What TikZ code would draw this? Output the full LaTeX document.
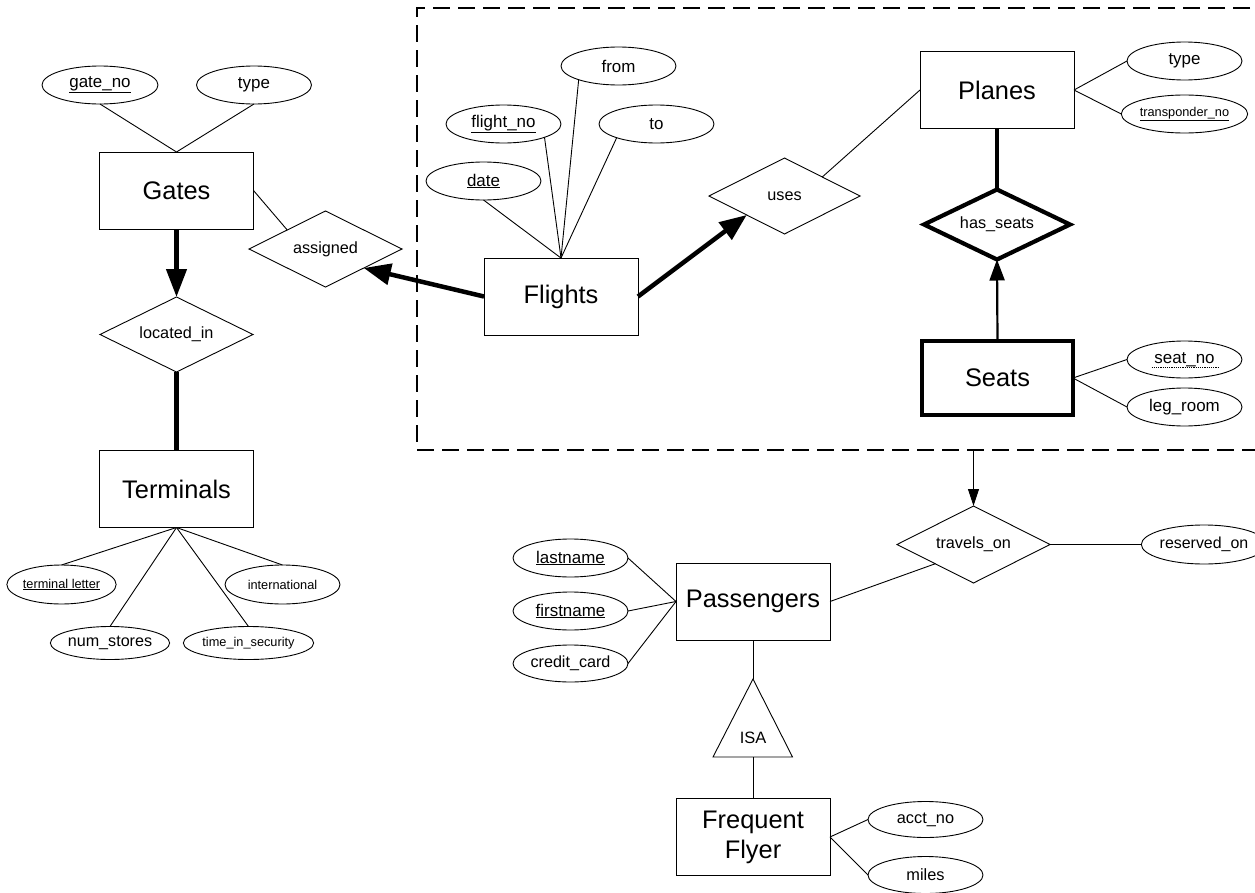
\documentclass[tikz,border=0pt]{standalone}
\usepackage{fontspec}
\setmainfont{Liberation Sans}
\usetikzlibrary{shapes.geometric,arrows.meta}
\begin{document}
\begin{tikzpicture}[x=1bp,y=-1bp,
  every node/.style={inner sep=0pt, outer sep=0pt},
  ent/.style={draw, line width=0.9bp, rectangle, minimum width=154bp, minimum height=77bp, font=\fontsize{25.5}{30}\selectfont},
  rel/.style={draw, line width=0.9bp, diamond, aspect=2, minimum width=153bp, minimum height=76bp, font=\fontsize{16.3}{19}\selectfont},
  attr/.style={draw, line width=0.9bp, ellipse, minimum width=115bp, minimum height=38bp, font=\fontsize{17}{20}\selectfont},
  sattr/.style={attr, font=\fontsize{12.8}{15}\selectfont},
  conn/.style={line width=0.9bp},
  heavy/.style={line width=4.5bp},
  bigtip/.style={-{Triangle[length=28bp,width=20bp]}},
  midtip/.style={-{Triangle[length=27bp,width=21bp]}},
]
\useasboundingbox (0,0) rectangle (1255,893);

% dashed aggregation box
\draw[line width=1.4bp, dash pattern=on 17bp off 8bp] (1275,8) -- (417,8) -- (417,450) -- (1275,450);
\coordinate (boxdrop) at (973.5,450);

% entities
\node[ent] (gates) at (176.5,190.5) {Gates};
\node[ent] (terminals) at (176.5,489) {Terminals};
\node[ent] (flights) at (561,296.5) {Flights};
\node[ent] (planes) at (997,90) {Planes};
\node[ent, line width=4.8bp, minimum width=151bp, minimum height=74bp] (seats) at (997.5,378) {Seats};
\node[ent] (passengers) at (753,601.5) {Passengers};
\node[ent, align=center] (ff) at (753,837) {Frequent\\Flyer};

% relationships
\node[rel] (assigned) at (325.5,249) {assigned};
\node[rel, minimum height=75bp] (locin) at (176.5,334.5) {located\_in};
\node[rel, minimum width=151bp] (uses) at (784.5,196) {uses};
\node[rel, line width=4.2bp, minimum width=146bp, minimum height=70bp] (hasseats) at (997,224.5) {has\_seats};
\node[rel, minimum height=77bp] (travels) at (973.5,544.5) {travels\_on};

% ISA triangle
\coordinate (isatop) at (753,679);
\coordinate (isabase) at (753,757);
\draw[conn, line join=miter] (isatop) -- (792.5,757) -- (713,757) -- cycle;
\node[font=\fontsize{16.5}{19}\selectfont] (isa) at (753,737.5) {ISA};

% attributes
\node[attr, minimum width=116bp] (gateno) at (100,85) {\underline{gate\_no}};
\node[attr] (gtype) at (254,85) {type};
\node[attr] (date) at (483.5,181) {\underline{date}};
\node[attr] (flightno) at (503.5,124) {\underline{flight\_no}};
\node[attr] (from) at (618.5,66) {from};
\node[attr] (to) at (656.5,124) {to};
\node[attr] (ptype) at (1184.5,61) {type};
\node[sattr] (transp) at (1184.5,114) {\underline{transponder\_no}};
\node[attr, minimum height=37bp] (seatno) at (1184.5,359.5) {seat\_no};
\draw[line width=0.7bp, dash pattern=on 1.2bp off 1bp] ([xshift=-33bp,yshift=-8bp]seatno.center) -- ([xshift=34bp,yshift=-8bp]seatno.center);
\node[attr] (legroom) at (1184.5,407) {leg\_room};
\node[sattr, minimum width=107bp, minimum height=39bp] (termletter) at (61.5,584.5) {\underline{terminal letter}};
\node[sattr, minimum height=39bp] (intl) at (282.5,584.5) {international};
\node[attr, minimum width=114bp, minimum height=33bp, font=\fontsize{16.2}{19}\selectfont] (numstores) at (110,643) {num\_stores};
\node[sattr, minimum width=117bp, minimum height=33bp] (timesec) at (248.5,643) {time\_in\_security};
\node[attr] (lastname) at (570.5,558) {\underline{lastname}};
\node[attr] (firstname) at (570.5,611) {\underline{firstname}};
\node[attr, minimum height=37bp, font=\fontsize{16.2}{19}\selectfont] (credit) at (570.5,663.5) {credit\_card};
\node[attr, minimum height=36bp, font=\fontsize{16.4}{19}\selectfont] (acctno) at (925.5,819.5) {acct\_no};
\node[attr, minimum height=37bp, font=\fontsize{16.4}{19}\selectfont] (miles) at (925.5,875) {miles};
\node[attr, minimum height=39bp, font=\fontsize{16}{19}\selectfont] (reserved) at (1204,544.5) {reserved\_on};

% connectors: gates / terminals
\draw[conn] (gateno.south) -- (gates.north);
\draw[conn] (gtype.south) -- (gates.north);
\draw[conn] (gates.east) -- (assigned.north west);
\draw[heavy, bigtip] (gates.south) -- (locin.north);
\draw[heavy] (locin.south) -- (terminals.north);
\draw[conn] (terminals.south) -- (termletter.north);
\draw[conn] (terminals.south) -- (numstores.north);
\draw[conn] (terminals.south) -- (timesec.north);
\draw[conn] (terminals.south) -- (intl.north);

% flights
\draw[conn] (date.south) -- (flights.north);
\draw[conn] (flightno.-18) -- (flights.north);
\draw[conn] (from.199) -- (flights.north);
\draw[conn] (to.199) -- (flights.north);
\draw[heavy, midtip] (flights.west) -- (assigned.south east);
\draw[heavy, midtip] (flights.east) -- (uses.south west);
\draw[conn] (uses.north east) -- (planes.west);

% planes / seats
\draw[conn] (planes.east) -- (ptype.west);
\draw[conn] (planes.east) -- (transp.west);
\draw[heavy] (planes.south) -- (hasseats.north);
\draw[line width=2.2bp, -{Triangle[length=21bp,width=15bp]}] (seats.north) -- (hasseats.south);
\draw[conn] (seats.east) -- (seatno.west);
\draw[conn] (seats.east) -- (legroom.west);

% passengers
\draw[conn, -{Triangle[length=17bp,width=11bp]}] (boxdrop) -- (travels.north);
\draw[conn] (travels.east) -- (reserved.west);
\draw[conn] (passengers.east) -- (travels.south west);
\draw[conn] (passengers.west) -- (lastname.east);
\draw[conn] (passengers.west) -- (firstname.east);
\draw[conn] (passengers.west) -- (credit.east);
\draw[conn] (passengers.south) -- (isatop);
\draw[conn] (isabase) -- (ff.north);
\draw[conn] (ff.east) -- (acctno.west);
\draw[conn] (ff.east) -- (miles.west);
\end{tikzpicture}
\end{document}
